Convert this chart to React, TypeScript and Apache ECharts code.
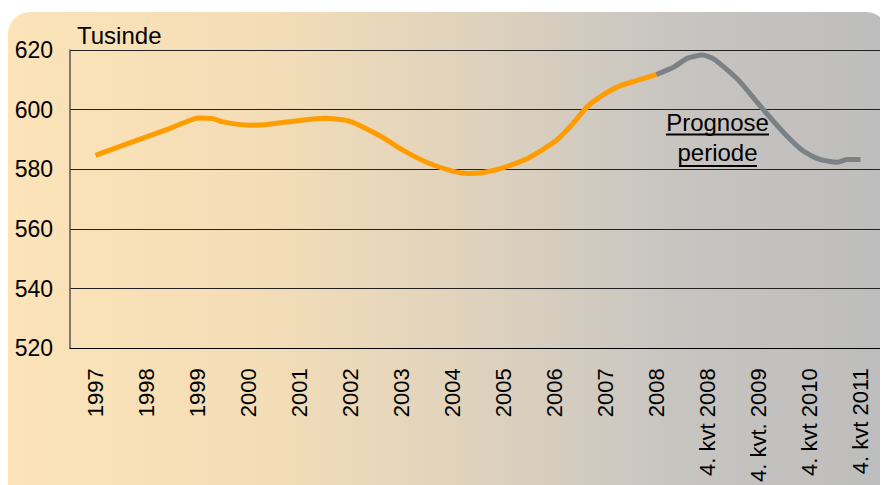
import React, { useEffect, useRef } from "react";
import * as echarts from "echarts";

const categories = [
  "1997", "1998", "1999", "2000", "2001", "2002", "2003", "2004", "2005",
  "2006", "2007", "2008", "4. kvt 2008", "4. kvt. 2009", "4. kvt 2010", "4. kvt 2011",
];
const yTicks = { min: 520, max: 620, interval: 20 };

// positions in category units (0 = 1997, 15 = 4. kvt 2011)
const histT = [0, 1, 1.5, 1.8, 2, 2.3, 2.5, 3, 3.3, 4, 4.5, 5, 5.6, 6, 6.5, 7, 7.3, 7.6, 8, 8.5, 9, 9.3, 9.65, 9.9, 10.26, 10.62, 11];
const histV = [584.7, 590.9, 594, 596.1, 597.2, 597, 595.9, 594.8, 594.9, 596.4, 597.1, 596, 591, 586.7, 582.3, 579.4, 578.6, 578.9, 580.6, 583.9, 589.2, 594.2, 601.1, 604.4, 607.8, 609.8, 611.8];
const progT = [11, 11.35, 11.6, 11.9, 12.13, 12.6, 13.04, 13.5, 13.88, 14.2, 14.55, 14.74, 15];
const progV = [611.8, 614.4, 617.2, 618.3, 616.9, 610, 601.1, 592.2, 586.1, 583.3, 582.4, 583.3, 583.3];

const FONT = "'Liberation Sans', Arial, sans-serif";

export default function App() {
  const ref = useRef<HTMLDivElement>(null);
  useEffect(() => {
    if (!ref.current) return;
    const chart = echarts.init(ref.current, null, { renderer: "svg" });
    chart.setOption({
      animation: false,
      graphic: [
        {
          type: "rect",
          z: -10,
          silent: true,
          shape: { x: 0, y: 4, width: 880, height: 500, r: 22 },
          style: {
            fill: new echarts.graphic.LinearGradient(0, 0, 1, 0, [
              { offset: 0, color: "#FCE3B8" },
              { offset: 0.3, color: "#F3DDB7" },
              { offset: 0.55, color: "#DDD1BE" },
              { offset: 0.75, color: "#C8C5C1" },
              { offset: 1, color: "#BDBDBD" },
            ]),
          },
        },
        {
          type: "text",
          left: 69,
          top: 15,
          style: { text: "Tusinde", font: `24px ${FONT}`, fill: "#000" },
        },
        {
          type: "text",
          x: 709.5,
          y: 99,
          style: {
            text: "Prognose\nperiode",
            font: `24px ${FONT}`,
            fill: "#000",
            align: "center",
            verticalAlign: "top",
            lineHeight: 30,
          },
        },
        { type: "line", shape: { x1: 658, y1: 126.5, x2: 761, y2: 126.5 }, style: { stroke: "#000", lineWidth: 2 } },
        { type: "line", shape: { x1: 671, y1: 158, x2: 749, y2: 158 }, style: { stroke: "#000", lineWidth: 2 } },
      ],
      grid: { left: 62, right: 2, top: 42, bottom: 135 },
      xAxis: [
        {
          type: "category",
          data: categories,
          boundaryGap: true,
          axisLine: { show: true, lineStyle: { color: "#000", width: 1 } },
          axisTick: { show: false },
          axisLabel: {
            rotate: 90,
            interval: 0,
            margin: 20,
            color: "#000",
            fontSize: 22,
            fontFamily: FONT,
          },
        },
        {
          type: "value",
          min: -0.5,
          max: 15.5,
          show: false,
        },
      ],
      yAxis: {
        type: "value",
        min: yTicks.min,
        max: yTicks.max,
        interval: yTicks.interval,
        axisLine: { show: true, onZero: false, lineStyle: { color: "#555", width: 1.5 } },
        axisTick: { show: false },
        axisLabel: { color: "#000", fontSize: 23, fontFamily: FONT, margin: 17 },
        splitLine: { show: true, lineStyle: { color: "#222", width: 1 } },
      },
      series: [
        {
          type: "line",
          xAxisIndex: 1,
          data: histT.map((t, i) => [t, histV[i]]),
          smooth: 0.2,
          showSymbol: false,
          lineStyle: { color: "#FF9D00", width: 5 },
          z: 3,
        },
        {
          type: "line",
          xAxisIndex: 1,
          data: progT.map((t, i) => [t, progV[i]]),
          smooth: 0.2,
          showSymbol: false,
          lineStyle: { color: "#7B8184", width: 5 },
          z: 3,
        },
      ],
    });
    return () => chart.dispose();
  }, []);
  return <div ref={ref} style={{ width: 880, height: 477 }} />;
}
